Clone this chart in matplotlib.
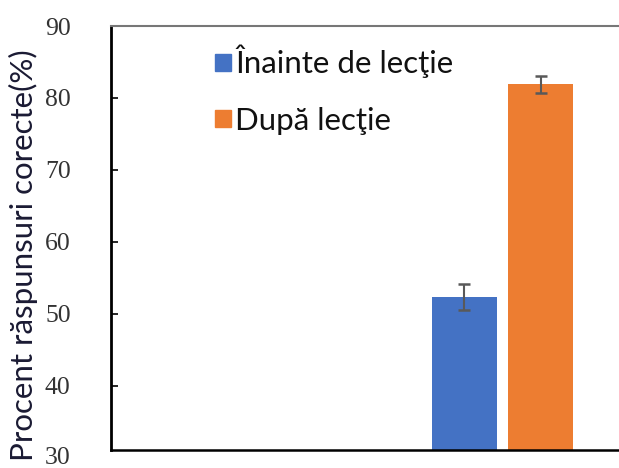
import matplotlib
matplotlib.use("Agg")
import matplotlib.pyplot as plt
from matplotlib.patches import Patch

series = ["Înainte de lecţie", "După lecţie"]
values = [52.4, 81.9]
errors = [1.8, 1.2]
colors = ["#4472C4", "#ED7D31"]
yticks = [40, 50, 60, 70, 80, 90]

W, H = 619, 468
fig = plt.figure(figsize=(W/100, H/100), dpi=100)
left_px, right_px, top_px, bot_px = 111, 660, 26, 450
ax = fig.add_axes([left_px/W, 1-bot_px/H, (right_px-left_px)/W, (bot_px-top_px)/H])

xpos = [464 - left_px, 540.5 - left_px]
bw = 65
ax.bar(xpos, values, width=bw, color=colors, yerr=errors,
       error_kw=dict(ecolor="#595959", elinewidth=1.5, capsize=4.5, capthick=1.8), zorder=2)
ax.set_xlim(0, right_px - left_px)
ax.set_ylim(31.1, 90)
ax.set_yticks(yticks)
ax.set_yticklabels([str(t) for t in yticks], fontfamily="Liberation Serif", fontsize=18.5, color="#333333")
ax.text(-0.074, 30, "30", transform=ax.get_yaxis_transform(), ha="right", va="center",
        fontfamily="Liberation Serif", fontsize=18.5, color="#333333", clip_on=False)
ax.tick_params(axis="y", direction="in", length=5, width=1.2, pad=29)
ax.set_xticks([])
ax.spines["left"].set_linewidth(2)
ax.spines["left"].set_color("black")
ax.spines["bottom"].set_linewidth(1.8)
ax.spines["bottom"].set_color("black")
ax.spines["top"].set_linewidth(1.5)
ax.spines["top"].set_color("#777777")
ax.spines["right"].set_visible(False)

ax.set_ylabel("Procent răspunsuri corecte(%)", fontfamily="Lato", fontsize=22.5,
              color="#1a1a33")
ax.yaxis.set_label_coords(-0.133, 0.46)

handles = [Patch(color=c, label=s) for c, s in zip(colors, series)]
leg = ax.legend(handles=handles, loc="upper left",
                bbox_to_anchor=((215-left_px)/(right_px-left_px), (bot_px-45)/(bot_px-top_px)),
                frameon=False, prop={"family": "Lato", "size": 22.5}, borderpad=0, borderaxespad=0,
                handlelength=0.5, handleheight=0.5, handletextpad=0.15, labelspacing=0.9)
for t in leg.get_texts():
    t.set_color("#111111")

fig.savefig("out.png", dpi=100)
